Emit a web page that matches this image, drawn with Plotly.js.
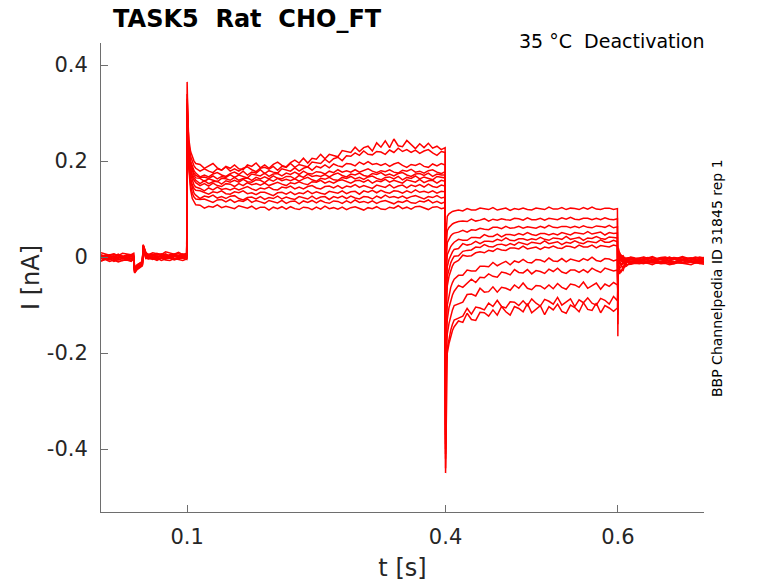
<!DOCTYPE html>
<html>
<head>
<meta charset="utf-8">
<script src="https://cdn.plot.ly/plotly-3.0.1.min.js"></script>
<style>
  body { margin: 0; background: #fff; }
  #myDiv { width: 778px; height: 583px; }
</style>
</head>
<body>
<div id="myDiv"></div>
<script>
// time stamps (s), one array per protocol segment
var tPre = [0, 0.005, 0.01, 0.015, 0.02, 0.025, 0.03, 0.035, 0.038, 0.039,
  0.042, 0.045, 0.048, 0.049, 0.052, 0.055, 0.06, 0.065, 0.07, 0.075,
  0.08, 0.085, 0.09, 0.095, 0.0995];
var tOn = [0.1, 0.1005, 0.101, 0.102, 0.104, 0.106, 0.108, 0.11,
  0.115, 0.12, 0.125, 0.13, 0.135, 0.14, 0.145, 0.15, 0.155, 0.16,
  0.165, 0.17, 0.175, 0.18, 0.185, 0.19, 0.195, 0.2, 0.205, 0.21,
  0.215, 0.22, 0.225, 0.23, 0.235, 0.24, 0.245, 0.25, 0.255, 0.26,
  0.265, 0.27, 0.275, 0.28, 0.285, 0.29, 0.295, 0.3, 0.305, 0.31,
  0.315, 0.32, 0.325, 0.33, 0.335, 0.34, 0.345, 0.35, 0.355, 0.36,
  0.365, 0.37, 0.375, 0.38, 0.385, 0.39, 0.395,
  0.3995];
var tOff = [0.4, 0.4005, 0.401, 0.402, 0.404, 0.406, 0.408, 0.41,
  0.415, 0.42, 0.425, 0.43, 0.435, 0.44, 0.445, 0.45, 0.455, 0.46,
  0.465, 0.47, 0.475, 0.48, 0.485, 0.49, 0.495, 0.5, 0.505, 0.51,
  0.515, 0.52, 0.525, 0.53, 0.535, 0.54, 0.545, 0.55, 0.555, 0.56,
  0.565, 0.57, 0.575, 0.58, 0.585, 0.59, 0.595,
  0.5995];
var tTail = [0.6, 0.6005, 0.601, 0.602, 0.604, 0.606, 0.608, 0.61,
  0.615, 0.62, 0.625, 0.63, 0.635, 0.64, 0.645, 0.65, 0.655, 0.66,
  0.665, 0.67, 0.675, 0.68, 0.685, 0.69, 0.695, 0.7];

// current (nA), one row per sweep - holding before the pulse
var preI = [
  [0.005, 0.002, 0.005, 0.006, 0.003, 0.001, 0.005, 0.004, 0.006, -0.023, -0.016, -0.012, -0.009, 0.026, 0.009, 0.003, 0.002, 0.005, 0.007, 0.003, 0.002, 0.006, 0.003, 0.007, 0.002],
  [-0.007, -0.003, -0.001, -0.005, -0.006, -0.003, -0.005, -0.002, -0.007, -0.031, -0.023, -0.019, -0.016, 0.021, 0.000, -0.001, 0.000, -0.005, -0.001, -0.004, 0.001, -0.002, -0.004, 0.000, -0.002],
  [0.004, -0.001, 0.003, 0.000, 0.004, 0.002, -0.001, 0.003, 0.001, -0.024, -0.018, -0.014, -0.011, 0.021, 0.008, 0.002, 0.005, 0.007, 0.003, 0.001, 0.005, 0.006, 0.002, 0.005, 0.007],
  [-0.003, 0.000, -0.004, -0.002, 0.000, -0.004, 0.001, -0.003, -0.001, -0.029, -0.023, -0.019, -0.016, 0.022, 0.002, 0.003, -0.003, 0.000, 0.002, 0.001, -0.002, 0.003, 0.000, -0.002, 0.002],
  [0.009, 0.006, 0.004, 0.007, 0.003, 0.008, 0.006, 0.005, 0.008, -0.022, -0.016, -0.013, -0.010, 0.025, 0.010, 0.005, 0.009, 0.007, 0.005, 0.011, 0.009, 0.006, 0.010, 0.005, 0.008],
  [-0.008, -0.004, -0.003, -0.009, -0.005, -0.007, -0.004, -0.008, -0.004, -0.032, -0.024, -0.020, -0.017, 0.019, -0.003, -0.001, -0.005, -0.002, -0.007, -0.004, -0.002, -0.006, -0.003, -0.002, -0.005],
  [0.001, -0.002, 0.002, 0.003, -0.001, 0.002, -0.002, 0.001, -0.001, -0.027, -0.020, -0.016, -0.013, 0.023, 0.006, 0.001, 0.004, -0.001, 0.002, 0.000, 0.005, 0.002, -0.001, 0.003, 0.004],
  [0.000, 0.004, 0.002, 0.001, 0.006, 0.001, 0.003, 0.005, 0.003, -0.025, -0.018, -0.015, -0.012, 0.024, 0.007, 0.006, 0.003, 0.008, 0.004, 0.007, 0.002, 0.006, 0.007, 0.004, 0.003],
  [-0.001, -0.003, -0.006, -0.002, -0.003, 0.000, -0.004, -0.006, -0.001, -0.030, -0.023, -0.020, -0.016, 0.020, 0.002, -0.003, -0.001, -0.002, 0.002, -0.003, 0.001, -0.004, 0.000, 0.002, -0.002],
  [-0.001, 0.004, 0.001, 0.000, 0.003, -0.002, 0.004, 0.002, -0.001, -0.026, -0.019, -0.015, -0.012, 0.024, 0.005, 0.005, 0.006, 0.001, 0.002, 0.005, 0.001, 0.003, 0.001, 0.003, 0.005],
  [0.002, -0.003, 0.001, -0.004, -0.001, 0.000, -0.004, 0.002, -0.002, -0.026, -0.021, -0.018, -0.014, 0.022, 0.005, 0.001, -0.001, 0.003, 0.002, -0.002, 0.001, 0.004, 0.000, 0.003, -0.002],
  [-0.008, -0.005, -0.009, -0.006, -0.010, -0.007, -0.006, -0.009, -0.004, -0.033, -0.026, -0.021, -0.018, 0.018, -0.002, -0.004, -0.003, -0.007, -0.002, -0.006, -0.007, -0.003, -0.005, -0.007, -0.004]
];

// activating step 0.1 - 0.4 s
var onI = [
  [0.365, 0.31, 0.27, 0.245, 0.22, 0.21, 0.2, 0.195,
   0.193, 0.185, 0.190, 0.195, 0.186, 0.181, 0.189, 0.185, 0.192, 0.184,
   0.182, 0.192, 0.189, 0.196, 0.186, 0.192, 0.185, 0.193, 0.198, 0.191,
   0.188, 0.197, 0.202, 0.196, 0.206, 0.196, 0.206, 0.204, 0.214, 0.205,
   0.214, 0.211, 0.209, 0.222, 0.220, 0.218, 0.229, 0.220, 0.228, 0.231,
   0.221, 0.238, 0.229, 0.242, 0.228, 0.246, 0.232, 0.230, 0.243, 0.234,
   0.226, 0.236, 0.228, 0.237, 0.227, 0.231, 0.224,
   0.228],
  [0.34, 0.30, 0.26, 0.235, 0.21, 0.2, 0.19, 0.185,
   0.179, 0.184, 0.179, 0.176, 0.184, 0.181, 0.188, 0.179, 0.184, 0.179,
   0.185, 0.188, 0.182, 0.178, 0.185, 0.187, 0.183, 0.189, 0.181, 0.189,
   0.187, 0.195, 0.187, 0.193, 0.190, 0.188, 0.198, 0.196, 0.195, 0.204,
   0.197, 0.205, 0.208, 0.201, 0.211, 0.210, 0.217, 0.212, 0.221, 0.214,
   0.213, 0.220, 0.219, 0.214, 0.223, 0.218, 0.227, 0.220, 0.224, 0.218,
   0.223, 0.216, 0.221, 0.224, 0.217, 0.212, 0.220,
   0.218],
  [0.33, 0.29, 0.25, 0.225, 0.2, 0.19, 0.18, 0.175,
   0.167, 0.171, 0.167, 0.173, 0.176, 0.171, 0.168, 0.174, 0.177, 0.172,
   0.179, 0.171, 0.177, 0.175, 0.182, 0.174, 0.180, 0.177, 0.175, 0.184,
   0.182, 0.179, 0.186, 0.179, 0.185, 0.188, 0.181, 0.189, 0.186, 0.192,
   0.186, 0.194, 0.190, 0.188, 0.195, 0.194, 0.190, 0.198, 0.193, 0.199,
   0.193, 0.195, 0.191, 0.195, 0.189, 0.194, 0.197, 0.191, 0.187, 0.193,
   0.191, 0.195, 0.189, 0.187, 0.194, 0.190, 0.195,
   0.192],
  [0.32, 0.285, 0.245, 0.22, 0.195, 0.183, 0.175, 0.17,
   0.166, 0.167, 0.164, 0.169, 0.163, 0.168, 0.166, 0.172, 0.166, 0.171,
   0.168, 0.165, 0.173, 0.171, 0.169, 0.175, 0.168, 0.173, 0.174, 0.169,
   0.175, 0.172, 0.177, 0.172, 0.179, 0.174, 0.173, 0.178, 0.177, 0.173,
   0.179, 0.176, 0.182, 0.177, 0.180, 0.177, 0.182, 0.177, 0.181, 0.184,
   0.179, 0.176, 0.180, 0.178, 0.182, 0.177, 0.175, 0.181, 0.179, 0.183,
   0.177, 0.179, 0.175, 0.180, 0.182, 0.177, 0.174,
   0.178],
  [0.315, 0.28, 0.24, 0.215, 0.19, 0.178, 0.17, 0.165,
   0.164, 0.158, 0.163, 0.160, 0.157, 0.164, 0.163, 0.160, 0.166, 0.160,
   0.164, 0.165, 0.160, 0.166, 0.163, 0.167, 0.163, 0.169, 0.164, 0.163,
   0.168, 0.168, 0.163, 0.170, 0.166, 0.173, 0.168, 0.170, 0.168, 0.172,
   0.167, 0.172, 0.175, 0.170, 0.167, 0.173, 0.171, 0.175, 0.170, 0.168,
   0.174, 0.172, 0.176, 0.170, 0.173, 0.169, 0.174, 0.176, 0.171, 0.168,
   0.173, 0.174, 0.170, 0.175, 0.168, 0.173, 0.171,
   0.171],
  [0.31, 0.275, 0.235, 0.21, 0.185, 0.172, 0.165, 0.16,
   0.153, 0.159, 0.153, 0.157, 0.158, 0.152, 0.159, 0.156, 0.160, 0.156,
   0.162, 0.157, 0.156, 0.161, 0.160, 0.155, 0.162, 0.158, 0.164, 0.159,
   0.162, 0.159, 0.163, 0.158, 0.163, 0.166, 0.161, 0.158, 0.164, 0.162,
   0.166, 0.161, 0.160, 0.166, 0.164, 0.168, 0.163, 0.166, 0.162, 0.167,
   0.169, 0.164, 0.161, 0.166, 0.167, 0.163, 0.168, 0.161, 0.166, 0.164,
   0.169, 0.163, 0.167, 0.164, 0.161, 0.168, 0.166,
   0.165],
  [0.305, 0.27, 0.23, 0.205, 0.18, 0.167, 0.16, 0.155,
   0.149, 0.153, 0.148, 0.154, 0.149, 0.147, 0.153, 0.152, 0.147, 0.153,
   0.149, 0.155, 0.151, 0.153, 0.150, 0.154, 0.149, 0.153, 0.156, 0.152,
   0.149, 0.155, 0.153, 0.157, 0.153, 0.151, 0.157, 0.156, 0.160, 0.154,
   0.158, 0.154, 0.159, 0.161, 0.157, 0.154, 0.159, 0.160, 0.156, 0.161,
   0.154, 0.159, 0.157, 0.162, 0.156, 0.160, 0.157, 0.154, 0.161, 0.159,
   0.156, 0.162, 0.155, 0.159, 0.160, 0.154, 0.160,
   0.158],
  [0.30, 0.265, 0.225, 0.2, 0.172, 0.158, 0.15, 0.146,
   0.143, 0.138, 0.144, 0.140, 0.146, 0.141, 0.143, 0.140, 0.144, 0.140,
   0.144, 0.147, 0.142, 0.139, 0.144, 0.142, 0.146, 0.141, 0.140, 0.146,
   0.144, 0.148, 0.142, 0.146, 0.142, 0.147, 0.149, 0.144, 0.142, 0.147,
   0.148, 0.144, 0.149, 0.143, 0.148, 0.146, 0.151, 0.145, 0.149, 0.146,
   0.143, 0.150, 0.148, 0.145, 0.151, 0.144, 0.148, 0.150, 0.144, 0.150,
   0.147, 0.151, 0.146, 0.152, 0.147, 0.145, 0.150,
   0.148],
  [0.295, 0.26, 0.22, 0.195, 0.165, 0.15, 0.143, 0.139,
   0.138, 0.134, 0.131, 0.136, 0.134, 0.138, 0.132, 0.131, 0.136, 0.134,
   0.138, 0.132, 0.134, 0.130, 0.135, 0.135, 0.131, 0.128, 0.134, 0.135,
   0.131, 0.136, 0.130, 0.134, 0.132, 0.138, 0.132, 0.136, 0.133, 0.131,
   0.137, 0.135, 0.133, 0.138, 0.132, 0.136, 0.137, 0.131, 0.138, 0.135,
   0.139, 0.134, 0.139, 0.135, 0.133, 0.138, 0.137, 0.133, 0.138, 0.134,
   0.140, 0.135, 0.137, 0.134, 0.138, 0.133, 0.137,
   0.136],
  [0.29, 0.255, 0.215, 0.19, 0.158, 0.142, 0.133, 0.129,
   0.122, 0.127, 0.125, 0.129, 0.123, 0.126, 0.122, 0.127, 0.128, 0.122,
   0.119, 0.124, 0.125, 0.121, 0.126, 0.120, 0.124, 0.122, 0.127, 0.121,
   0.125, 0.122, 0.120, 0.126, 0.124, 0.121, 0.127, 0.121, 0.125, 0.126,
   0.120, 0.126, 0.123, 0.127, 0.122, 0.127, 0.123, 0.121, 0.126, 0.125,
   0.121, 0.127, 0.123, 0.129, 0.124, 0.126, 0.123, 0.127, 0.122, 0.126,
   0.128, 0.124, 0.121, 0.126, 0.124, 0.128, 0.123,
   0.125],
  [0.285, 0.25, 0.21, 0.185, 0.15, 0.133, 0.125, 0.121,
   0.120, 0.121, 0.117, 0.114, 0.119, 0.120, 0.115, 0.120, 0.114, 0.118,
   0.116, 0.121, 0.114, 0.118, 0.115, 0.112, 0.118, 0.116, 0.113, 0.118,
   0.112, 0.116, 0.117, 0.111, 0.117, 0.114, 0.118, 0.113, 0.118, 0.114,
   0.112, 0.117, 0.116, 0.112, 0.117, 0.113, 0.119, 0.114, 0.116, 0.113,
   0.117, 0.112, 0.116, 0.118, 0.114, 0.111, 0.116, 0.114, 0.118, 0.113,
   0.112, 0.117, 0.115, 0.119, 0.113, 0.116, 0.112,
   0.115],
  [0.28, 0.245, 0.205, 0.18, 0.14, 0.122, 0.114, 0.109,
   0.108, 0.102, 0.106, 0.104, 0.109, 0.103, 0.106, 0.103, 0.101, 0.107,
   0.105, 0.102, 0.106, 0.100, 0.104, 0.104, 0.098, 0.104, 0.101, 0.105,
   0.100, 0.105, 0.101, 0.099, 0.104, 0.103, 0.099, 0.104, 0.100, 0.106,
   0.101, 0.103, 0.100, 0.104, 0.099, 0.103, 0.105, 0.101, 0.098, 0.103,
   0.101, 0.105, 0.100, 0.099, 0.104, 0.102, 0.107, 0.101, 0.104, 0.100,
   0.105, 0.106, 0.102, 0.099, 0.104, 0.105, 0.101,
   0.103]
];

// test step 0.4 - 0.6 s
var offI = [
  [-0.30, -0.05, 0.06, 0.085, 0.09, 0.093, 0.095, 0.096,
   0.098, 0.096, 0.101, 0.098, 0.098, 0.102, 0.101, 0.099, 0.103, 0.098,
   0.100, 0.102, 0.097, 0.101, 0.099, 0.102, 0.099, 0.098, 0.102, 0.101,
   0.099, 0.104, 0.100, 0.100, 0.103, 0.099, 0.102, 0.101, 0.099, 0.103,
   0.100, 0.104, 0.100, 0.099, 0.102, 0.102, 0.099,
   0.101],
  [-0.33, -0.09, 0.03, 0.055, 0.062, 0.066, 0.069, 0.071,
   0.074, 0.075, 0.074, 0.079, 0.075, 0.077, 0.080, 0.075, 0.079, 0.077,
   0.080, 0.078, 0.077, 0.081, 0.080, 0.077, 0.082, 0.078, 0.078, 0.081,
   0.077, 0.081, 0.080, 0.078, 0.082, 0.079, 0.083, 0.079, 0.078, 0.081,
   0.081, 0.078, 0.081, 0.078, 0.082, 0.079, 0.078,
   0.080],
  [-0.35, -0.12, 0.0, 0.03, 0.039, 0.044, 0.048, 0.05,
   0.052, 0.056, 0.052, 0.057, 0.056, 0.060, 0.058, 0.057, 0.062, 0.062,
   0.059, 0.064, 0.060, 0.061, 0.064, 0.060, 0.063, 0.062, 0.060, 0.064,
   0.061, 0.066, 0.062, 0.061, 0.064, 0.064, 0.061, 0.064, 0.061, 0.065,
   0.062, 0.061, 0.065, 0.064, 0.062, 0.066, 0.061,
   0.063],
  [-0.36, -0.15, -0.03, 0.005, 0.016, 0.022, 0.027, 0.031,
   0.037, 0.035, 0.035, 0.041, 0.041, 0.040, 0.047, 0.043, 0.043, 0.048,
   0.042, 0.047, 0.047, 0.045, 0.049, 0.046, 0.051, 0.047, 0.045, 0.049,
   0.049, 0.046, 0.049, 0.046, 0.051, 0.048, 0.046, 0.051, 0.050, 0.048,
   0.053, 0.048, 0.050, 0.052, 0.046, 0.051, 0.049,
   0.050],
  [-0.37, -0.18, -0.06, -0.02, -0.005, 0.004, 0.011, 0.016,
   0.018, 0.028, 0.025, 0.027, 0.033, 0.028, 0.033, 0.033, 0.032, 0.037,
   0.034, 0.040, 0.035, 0.034, 0.038, 0.038, 0.035, 0.038, 0.036, 0.041,
   0.037, 0.035, 0.040, 0.039, 0.037, 0.043, 0.037, 0.039, 0.041, 0.035,
   0.040, 0.039, 0.043, 0.039, 0.037, 0.042, 0.041,
   0.040],
  [-0.38, -0.2, -0.08, -0.04, -0.022, -0.012, -0.004, 0.002,
   0.003, 0.012, 0.014, 0.015, 0.021, 0.020, 0.026, 0.022, 0.021, 0.026,
   0.027, 0.024, 0.028, 0.025, 0.031, 0.028, 0.026, 0.031, 0.030, 0.028,
   0.034, 0.028, 0.030, 0.032, 0.026, 0.031, 0.029, 0.034, 0.030, 0.028,
   0.033, 0.032, 0.030, 0.036, 0.031, 0.031, 0.035,
   0.032],
  [-0.39, -0.22, -0.1, -0.06, -0.04, -0.028, -0.018, -0.012,
   -0.007, 0.004, 0.002, 0.003, 0.009, 0.011, 0.009, 0.014, 0.012, 0.018,
   0.015, 0.014, 0.019, 0.019, 0.017, 0.023, 0.017, 0.019, 0.021, 0.016,
   0.021, 0.019, 0.023, 0.019, 0.018, 0.023, 0.022, 0.019, 0.025, 0.021,
   0.021, 0.025, 0.019, 0.024, 0.023, 0.021, 0.025,
   0.023],
  [-0.40, -0.25, -0.14, -0.1, -0.078, -0.063, -0.053, -0.046,
   -0.038, -0.038, -0.027, -0.029, -0.029, -0.019, -0.019, -0.020, -0.011, -0.018,
   -0.013, -0.009, -0.016, -0.008, -0.011, -0.005, -0.011, -0.012, -0.005, -0.006,
   -0.010, -0.002, -0.008, -0.009, -0.003, -0.010, -0.004, -0.006, -0.009, -0.003,
   -0.007, 0.000, -0.007, -0.009, -0.003, -0.004, -0.008,
   -0.005],
  [-0.41, -0.28, -0.17, -0.13, -0.105, -0.09, -0.079, -0.071,
   -0.059, -0.063, -0.054, -0.046, -0.053, -0.042, -0.043, -0.035, -0.040, -0.042,
   -0.031, -0.033, -0.037, -0.026, -0.032, -0.033, -0.026, -0.035, -0.028, -0.030,
   -0.034, -0.025, -0.030, -0.023, -0.031, -0.034, -0.027, -0.027, -0.032, -0.026,
   -0.032, -0.023, -0.028, -0.032, -0.023, -0.026, -0.029,
   -0.027],
  [-0.42, -0.3, -0.2, -0.16, -0.138, -0.122, -0.11, -0.101,
   -0.098, -0.094, -0.078, -0.077, -0.081, -0.065, -0.073, -0.072, -0.062, -0.073,
   -0.063, -0.065, -0.069, -0.058, -0.065, -0.054, -0.065, -0.068, -0.059, -0.060,
   -0.066, -0.058, -0.066, -0.055, -0.063, -0.067, -0.056, -0.058, -0.063, -0.052,
   -0.065, -0.060, -0.054, -0.067, -0.056, -0.061, -0.053,
   -0.058],
  [-0.44, -0.32, -0.22, -0.19, -0.168, -0.152, -0.14, -0.131,
   -0.127, -0.123, -0.107, -0.119, -0.104, -0.106, -0.110, -0.096, -0.103, -0.090,
   -0.103, -0.106, -0.093, -0.094, -0.101, -0.091, -0.101, -0.087, -0.096, -0.102,
   -0.088, -0.092, -0.098, -0.084, -0.100, -0.093, -0.087, -0.103, -0.089, -0.095,
   -0.085, -0.096, -0.100, -0.086, -0.090, -0.098, -0.082,
   -0.091],
  [-0.45, -0.34, -0.24, -0.2, -0.18, -0.165, -0.153, -0.145,
   -0.133, -0.136, -0.117, -0.130, -0.132, -0.115, -0.116, -0.123, -0.110, -0.121,
   -0.103, -0.114, -0.121, -0.103, -0.107, -0.114, -0.097, -0.116, -0.108, -0.101,
   -0.120, -0.103, -0.110, -0.098, -0.113, -0.117, -0.100, -0.105, -0.114, -0.095,
   -0.109, -0.111, -0.096, -0.116, -0.101, -0.106, -0.113,
   -0.106]
];

// back to holding after 0.6 s
var tailI = [
  [-0.165, 0.02, 0.012, 0.010, 0.002, 0.003, -0.004, -0.002,
   -0.001, -0.004, -0.002, 0.000, -0.003, -0.001, -0.004, -0.002, -0.003, 0.000, -0.004, -0.003, -0.001, -0.004, -0.002, -0.003, 0.000, -0.002],
  [-0.14, 0.018, 0.013, 0.004, 0.004, -0.003, -0.001, -0.007,
   -0.011, -0.008, -0.009, -0.011, -0.010, -0.012, -0.008, -0.010, -0.012, -0.009, -0.010, -0.008, -0.011, -0.009, -0.010, -0.012, -0.009, -0.010],
  [-0.12, 0.016, 0.009, 0.006, -0.002, 0.001, -0.006, -0.003,
   -0.006, -0.003, -0.007, -0.004, -0.007, -0.006, -0.003, -0.005, -0.006, -0.007, -0.004, -0.005, -0.007, -0.004, -0.003, -0.005, -0.007, -0.004],
  [-0.11, 0.014, 0.010, 0.001, -0.001, -0.006, -0.002, -0.009,
   -0.014, -0.011, -0.012, -0.014, -0.010, -0.012, -0.013, -0.010, -0.011, -0.013, -0.014, -0.011, -0.012, -0.013, -0.010, -0.012, -0.011, -0.013],
  [-0.1, 0.012, 0.005, 0.002, -0.006, -0.002, -0.009, -0.004,
   0.000, -0.002, -0.003, -0.001, -0.002, 0.001, -0.003, -0.001, 0.000, -0.003, -0.001, -0.002, 0.001, -0.002, -0.003, 0.000, -0.002, -0.001],
  [-0.09, 0.01, 0.007, -0.004, -0.003, -0.010, -0.004, -0.011,
   -0.008, -0.010, -0.006, -0.008, -0.010, -0.007, -0.006, -0.010, -0.008, -0.006, -0.009, -0.010, -0.007, -0.006, -0.009, -0.008, -0.006, -0.010],
  [-0.085, 0.008, 0.001, -0.002, -0.010, -0.005, -0.012, -0.006,
   -0.003, -0.005, -0.004, -0.007, -0.002, -0.005, -0.004, -0.006, -0.007, -0.002, -0.005, -0.003, -0.006, -0.005, -0.002, -0.006, -0.004, -0.002],
  [-0.08, 0.004, -0.004, -0.008, -0.016, -0.009, -0.014, -0.007,
   -0.012, -0.009, -0.011, -0.010, -0.013, -0.009, -0.012, -0.010, -0.009, -0.012, -0.010, -0.011, -0.013, -0.010, -0.011, -0.009, -0.013, -0.011],
  [-0.075, 0.0, -0.009, -0.013, -0.019, -0.012, -0.016, -0.009,
   -0.005, -0.008, -0.004, -0.007, -0.005, -0.008, -0.006, -0.004, -0.008, -0.006, -0.004, -0.007, -0.006, -0.008, -0.005, -0.007, -0.004, -0.006],
  [-0.07, -0.005, -0.011, -0.024, -0.019, -0.022, -0.013, -0.016,
   -0.015, -0.013, -0.014, -0.012, -0.013, -0.016, -0.012, -0.014, -0.013, -0.016, -0.014, -0.012, -0.013, -0.015, -0.016, -0.012, -0.014, -0.015],
  [-0.065, -0.01, -0.022, -0.026, -0.030, -0.020, -0.021, -0.013,
   -0.002, -0.004, -0.006, -0.003, -0.001, -0.004, -0.005, -0.002, -0.004, -0.001, -0.005, -0.003, -0.004, -0.002, -0.003, -0.006, -0.002, -0.003],
  [-0.06, -0.015, -0.023, -0.035, -0.027, -0.028, -0.018, -0.019,
   -0.009, -0.007, -0.008, -0.011, -0.008, -0.007, -0.009, -0.011, -0.007, -0.008, -0.010, -0.007, -0.011, -0.008, -0.007, -0.010, -0.008, -0.006]
];

var yTicks = [-0.4, -0.2, 0, 0.2, 0.4];
var yTickText = ['-0.4', '-0.2', '0', '0.2', '0.4'];
var xTicks = [0.1, 0.4, 0.6];
var xTickText = ['0.1', '0.4', '0.6'];

var t = tPre.concat(tOn, tOff, tTail);
var data = preI.map(function (row, k) {
  return {
    x: t,
    y: row.concat(onI[k], offI[k], tailI[k]),
    type: 'scatter',
    mode: 'lines',
    line: {color: '#ff0000', width: 1.5},
    hoverinfo: 'skip',
    showlegend: false
  };
});

var font = 'DejaVu Sans, sans-serif';
var axisCol = '#6e6e6e';

var layout = {
  width: 778,
  height: 583,
  margin: {l: 101, r: 74, t: 43, b: 71},
  paper_bgcolor: '#ffffff',
  plot_bgcolor: '#ffffff',
  font: {family: font, color: '#262626'},
  title: {
    text: '<b>TASK5  Rat  CHO_FT</b>',
    font: {family: font, size: 24, color: '#000000'},
    xref: 'paper', x: 0.02, xanchor: 'left',
    yref: 'container', y: 0.968, yanchor: 'middle'
  },
  xaxis: {
    range: [0, 0.7],
    tickvals: xTicks,
    ticktext: xTickText,
    ticks: 'inside',
    ticklen: 7,
    tickcolor: axisCol,
    showline: true,
    linecolor: axisCol,
    linewidth: 1,
    showgrid: false,
    zeroline: false,
    tickfont: {family: font, size: 21, color: '#262626'},
    ticklabelstandoff: 6,
    title: {text: 't [s]', font: {family: font, size: 24, color: '#262626'}, standoff: 10}
  },
  yaxis: {
    range: [-0.531, 0.446],
    tickvals: yTicks,
    ticktext: yTickText,
    ticks: 'inside',
    ticklen: 7,
    tickcolor: axisCol,
    showline: true,
    linecolor: axisCol,
    linewidth: 1,
    showgrid: false,
    zeroline: false,
    tickfont: {family: font, size: 21, color: '#262626'},
    ticklabelstandoff: 8,
    title: {text: 'I [nA]', font: {family: font, size: 24, color: '#262626'}, standoff: 0}
  },
  annotations: [
    {
      text: '35 °C  Deactivation',
      xref: 'paper', yref: 'paper', x: 1.003, y: 1.004,
      xanchor: 'right', yanchor: 'middle', showarrow: false,
      font: {family: font, size: 19, color: '#000000'}
    },
    {
      text: 'BBP Channelpedia ID 31845 rep 1',
      xref: 'paper', yref: 'paper', x: 1.0216, y: 0.499,
      xanchor: 'center', yanchor: 'middle', textangle: -90, showarrow: false,
      font: {family: font, size: 14, color: '#000000'}
    }
  ]
};

Plotly.newPlot('myDiv', data, layout, {staticPlot: true, displayModeBar: false});
</script>
</body>
</html>
